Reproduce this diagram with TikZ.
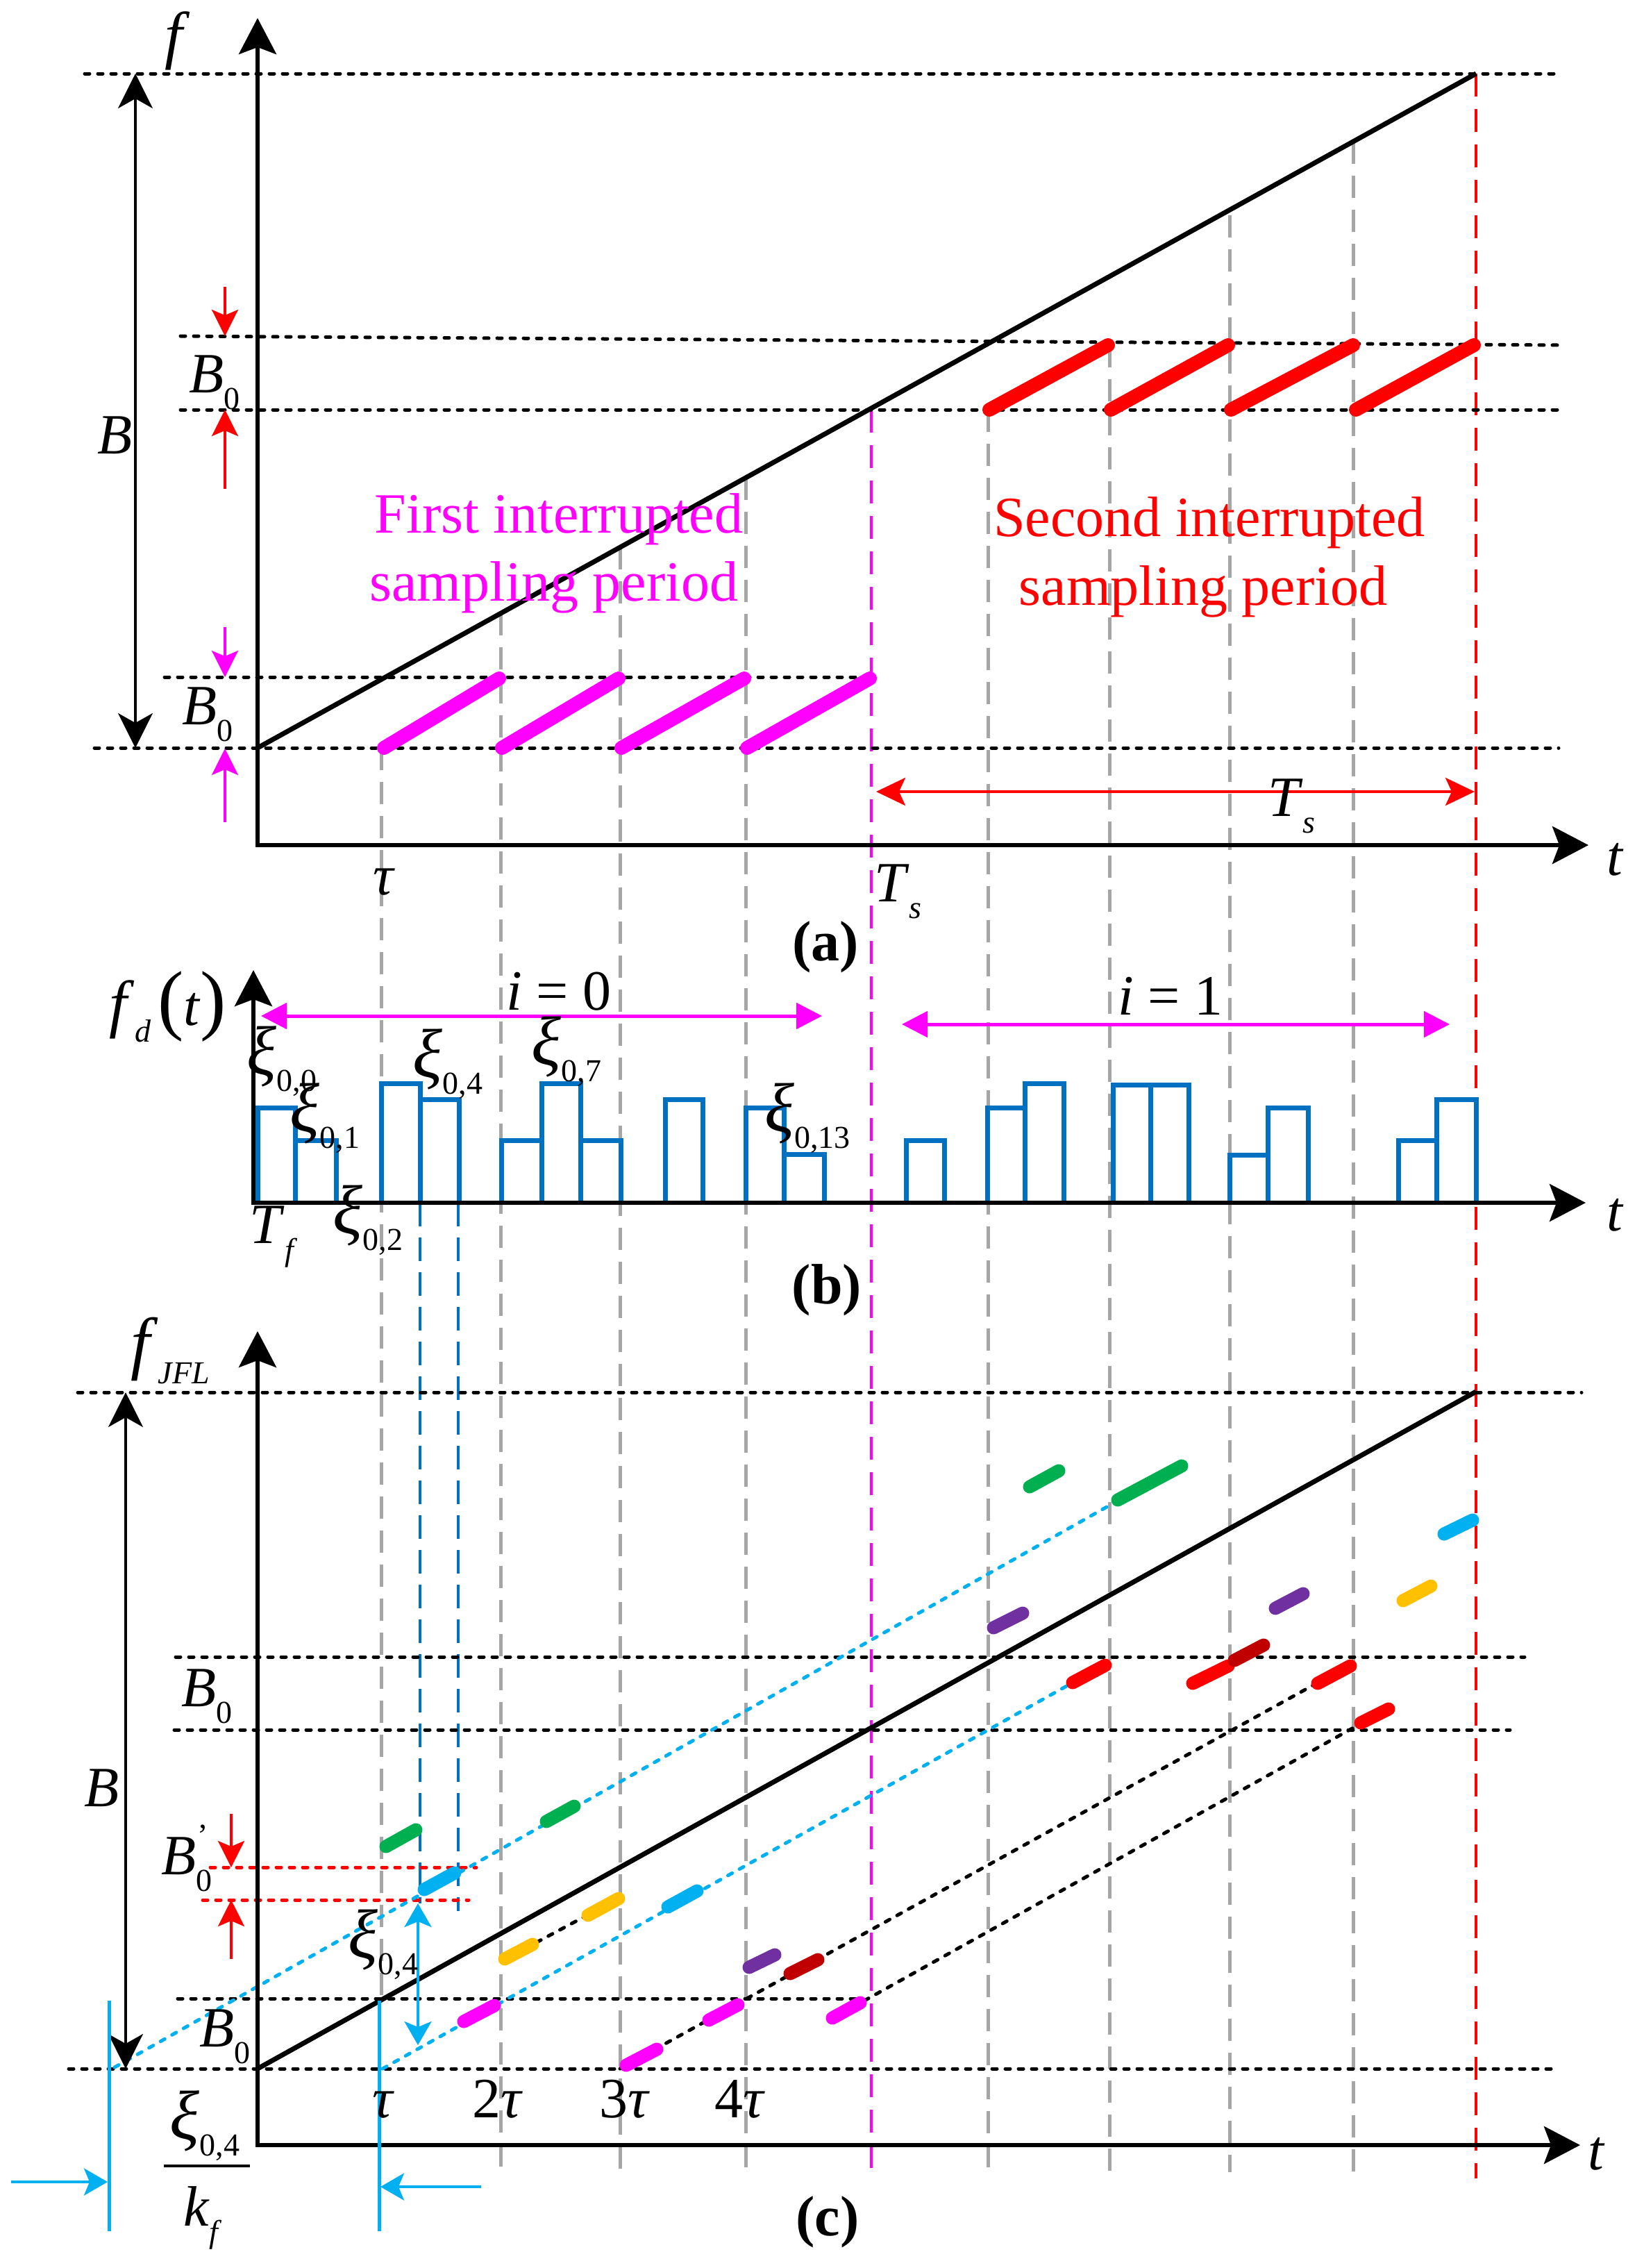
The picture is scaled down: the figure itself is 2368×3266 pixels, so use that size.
\documentclass[tikz,border=0pt]{standalone}
\usepackage{fontspec}
\setmainfont{Liberation Serif}
\usetikzlibrary{arrows.meta}
\definecolor{mag}{RGB}{255,0,255}
\definecolor{rd}{RGB}{255,0,0}
\definecolor{grn}{RGB}{0,176,80}
\definecolor{lb}{RGB}{0,176,240}
\definecolor{yel}{RGB}{255,192,0}
\definecolor{pur}{RGB}{112,48,160}
\definecolor{drd}{RGB}{192,0,0}
\definecolor{barblue}{RGB}{0,112,192}
\definecolor{gry}{RGB}{166,166,166}
\newcommand\mysub[1]{\raisebox{-0.3em}{\fontsize{46}{46}\selectfont #1}}
\newcommand\mysup[1]{\raisebox{0.5em}{\fontsize{46}{46}\selectfont #1}}
\newcommand\myxi{{\fontsize{100}{100}\selectfont\textit{ξ}}}
\tikzset{
  lab/.style={font=\fontsize{82}{98}\selectfont, inner sep=0pt, outer sep=0pt},
  plab/.style={font=\fontsize{82}{98}\selectfont\bfseries, inner sep=0pt},
  axis2/.style={line width=6pt, {Stealth[length=52pt,width=54pt,inset=10pt]}-{Stealth[length=52pt,width=54pt,inset=10pt]}},
  bigarr/.style={line width=4pt, {Stealth[length=50pt,width=50pt,inset=14pt]}-{Stealth[length=50pt,width=50pt,inset=14pt]}},
  smallarr/.style={line width=3.5pt, -{Stealth[length=38pt,width=38pt,inset=8pt]}},
  iarr/.style={draw=mag, line width=5pt, {Triangle[length=37pt,width=37pt]}-{Triangle[length=37pt,width=37pt]}},
  blkdot/.style={line width=5pt, line cap=round, dash pattern=on 7pt off 12pt},
  gdash/.style={draw=gry, line width=5pt, dash pattern=on 32pt off 17pt},
  mdash/.style={draw=mag, line width=4pt, dash pattern=on 33pt off 18pt},
  rdash/.style={draw=rd, line width=4pt, dash pattern=on 33pt off 18pt},
  bdash/.style={draw=barblue, line width=4pt, dash pattern=on 34pt off 16pt},
  seg/.style={line width=20pt, line cap=round},
  segc/.style={line width=19pt, line cap=round},
  ramp/.style={line width=7pt},
  bars/.style={draw=barblue, line width=7pt},
}
\begin{document}
\begin{tikzpicture}[x=1pt,y=-1pt]
\useasboundingbox (0,0) rectangle (2368,3266);

% ---------------- vertical guide lines ----------------
\draw[gdash] (549,1077) -- (549,2878);
\foreach \x/\y in {721/883, 893/788, 1074/688, 1423/590, 1598/497, 1771/310, 1949/204}
  \draw[gdash] (\x,\y) -- (\x,3128);
\draw[mdash] (1255,590) -- (1255,3128);
\draw[rdash] (2126,106) -- (2126,3137);
\draw[bdash] (605,1732) -- (605,2741);
\draw[bdash] (660,1732) -- (660,2752);

% ================= panel (a) =================
\draw[blkdot] (122,106) -- (2245,106);
\draw[blkdot] (260,484) -- (2245,497);
\draw[blkdot] (260,590) -- (2245,590);
\draw[blkdot] (237,975) -- (1255,975);
\draw[blkdot] (136,1077) -- (2245,1077);
\draw[ramp] (371,1077) -- (2126,106);
\foreach \a/\b in {553/719, 723/891, 895/1072, 1076/1253}
  \draw[seg, mag] (\a,1077) -- (\b,977);
\foreach \a/\b in {1425/1596, 1600/1769, 1773/1949, 1953/2123}
  \draw[seg, rd] (\a,590) -- (\b,497);
\draw[axis2] (371,26) -- (371,1217) -- (2288,1217);
\draw[bigarr] (195,106) -- (195,1077);
\draw[smallarr, rd] (324,413) -- (324,484);
\draw[smallarr, rd] (324,704) -- (324,590);
\draw[smallarr, mag] (324,903) -- (324,975);
\draw[smallarr, mag] (324,1184) -- (324,1078);
\draw[rd, line width=4pt, {Stealth[length=42pt,width=40pt,inset=9pt]}-{Stealth[length=42pt,width=40pt,inset=9pt]}] (1262,1140) -- (2124,1140);

\node[lab] (fa) at (256,59) {{\fontsize{92}{92}\selectfont\textit{f}}};
\node[lab, anchor=base] (Ba) at (166,653) {\textit{B}};
\node[lab, anchor=base west] (B0a) at (272,565) {\textit{B}\mysub{0}};
\node[lab, anchor=base west] (B0b) at (262,1043) {\textit{B}\mysub{0}};
\node[lab, anchor=base] (taua) at (553,1288) {\textit{τ}};
\node[lab, anchor=base west] (Tsa) at (1259,1298) {\textit{T}\mysub{\textit{s}}};
\node[lab, anchor=base west] (Tsb) at (1826,1175) {\textit{T}\mysub{\textit{s}}};
\node[lab, anchor=base] (ta) at (2327,1260) {\textit{t}};
\node[plab] (pa) at (1189,1364) {(a)};
\node[lab, text=mag, anchor=base] (fi1) at (805,767) {First interrupted};
\node[lab, text=mag, anchor=base] (fi2) at (798,865) {sampling period};
\node[lab, text=rd, anchor=base] (se1) at (1742,772) {Second interrupted};
\node[lab, text=rd, anchor=base] (se2) at (1733,871) {sampling period};

% ================= panel (b) =================
\foreach \a/\b/\h in {371/425/1595, 425/484/1642, 549/605/1560, 605/661/1583,
   722/780/1642, 780/836/1560, 836/894/1642, 958/1012/1583, 1074/1129/1595, 1129/1187/1662,
   1305/1360/1642, 1422/1476/1595, 1476/1532/1560, 1603/1657/1562, 1657/1712/1562,
   1771/1826/1663, 1826/1884/1595, 2014/2069/1642, 2069/2126/1583}
  \draw[bars] (\a,1732) |- (\b,\h) -- (\b,1732);
\draw[axis2] (365,1397) -- (365,1732) -- (2284,1732);
\draw[iarr] (376,1463) -- (1184,1463);
\draw[iarr] (1299,1475) -- (2088,1475);

\node[lab] (fd) at (242,1450) {{\fontsize{92}{92}\selectfont\textit{f}}\mysub{\textit{d}}\hspace{0.12em}{\fontsize{112}{112}\selectfont(}\textit{t}{\fontsize{112}{112}\selectfont)}};
\node[lab, anchor=base] (i0) at (805,1454) {\textit{i}\hspace{0.25em}=\hspace{0.25em}0};
\node[lab, anchor=base] (i1) at (1686,1461) {\textit{i}\hspace{0.25em}=\hspace{0.25em}1};
\node[lab] (x00) at (406,1528) {\myxi\mysub{0,0}};
\node[lab] (x01) at (468,1610) {\myxi\mysub{0,1}};
\node[lab] (x02) at (530,1757) {\myxi\mysub{0,2}};
\node[lab] (x04) at (645,1532) {\myxi\mysub{0,4}};
\node[lab] (x07) at (816,1514) {\myxi\mysub{0,7}};
\node[lab] (x013) at (1163,1610) {\myxi\mysub{0,13}};
\node[lab] (Tf) at (394,1781) {\textit{T}\mysub{\textit{f}}};
\node[lab, anchor=base] (tb) at (2327,1772) {\textit{t}};
\node[plab] (pb) at (1191,1858) {(b)};

% ================= panel (c) =================
\draw[blkdot] (112,2005) -- (2278,2005);
\draw[blkdot] (253,2386) -- (2196,2386);
\draw[blkdot] (251,2491) -- (2175,2491);
\draw[blkdot] (256,2878) -- (1240,2878);
\draw[blkdot] (99,2979) -- (2245,2979);
\draw[blkdot, rd] (303,2689) -- (686,2689);
\draw[blkdot, rd] (292,2736) -- (675,2736);
\draw[blkdot, lb] (165,2977) -- (1603,2165);
\draw[blkdot, lb] (551,2979) -- (1538,2427);
\draw[blkdot] (893,2979) -- (1891,2427);
\draw[blkdot] (1245,2881) -- (1953,2486);
\draw[blkdot] (773,2797) -- (840,2761);
\draw[ramp] (371,2979) -- (2126,2004);

\foreach \c/\xa/\ya/\xb/\yb in {
  grn/556/2659/599/2635, lb/611/2721/655/2697, grn/787/2623/827/2601,
  yel/727/2821/767/2800, yel/847/2758/891/2734, lb/962/2746/1004/2723,
  mag/668/2911/712/2888, mag/902/2974/946/2951, mag/1021/2909/1063/2887,
  pur/1079/2833/1116/2815, drd/1138/2842/1178/2822, mag/1199/2906/1239/2884,
  grn/1483/2141/1525/2118, grn/1610/2160/1702/2111, pur/1431/2344/1473/2323,
  rd/1545/2423/1592/2398, rd/1718/2424/1769/2399, drd/1778/2391/1820/2369,
  pur/1837/2316/1877/2295, rd/1898/2424/1945/2399, rd/1960/2481/2000/2461,
  yel/2021/2305/2061/2284, lb/2080/2209/2121/2189}
  \draw[segc, \c] (\xa,\ya) -- (\xb,\yb);

\draw[axis2] (371,1917) -- (371,3089) -- (2276,3089);
\draw[bigarr] (181,2005) -- (181,2979);
\draw[smallarr, rd] (333,2612) -- (333,2689);
\draw[smallarr, rd] (333,2821) -- (333,2736);
\draw[lb, line width=4pt, {Stealth[length=34pt,width=39pt,inset=8pt]}-{Stealth[length=34pt,width=39pt,inset=8pt]}] (602,2741) -- (602,2945);
\draw[lb, line width=5pt] (157,2881) -- (157,3213);
\draw[lb, line width=5pt] (546,2881) -- (546,3213);
\draw[lb, line width=4pt, -{Stealth[length=34pt,width=39pt,inset=8pt]}] (16,3142) -- (155,3142);
\draw[lb, line width=4pt, -{Stealth[length=34pt,width=39pt,inset=8pt]}] (693,3149) -- (548,3149);
\draw[line width=4pt] (236,3119) -- (360,3119);

\node[lab] (fjfl) at (245,1945) {{\fontsize{100}{100}\selectfont\textit{f}}\mysub{\textit{JFL}}};
\node[lab, anchor=base] (Bc) at (147,2601) {\textit{B}};
\node[lab, anchor=base west] (B0c) at (261,2457) {\textit{B}\mysub{0}};
\node[lab, anchor=base west] (B0p) at (232,2699) {\textit{B}\rlap{\mysup{\hspace{0.05em}'}}\mysub{0}};
\node[lab, anchor=base west] (B0d) at (287,2947) {\textit{B}\mysub{0}};
\node[lab] (x04c) at (552,2800) {\myxi\mysub{0,4}};
\node[lab, anchor=base] (t1) at (552,3049) {\textit{τ}};
\node[lab, anchor=base] (t2) at (717,3049) {2\textit{τ}};
\node[lab, anchor=base] (t3) at (900,3049) {3\textit{τ}};
\node[lab, anchor=base] (t4) at (1066,3049) {4\textit{τ}};
\node[lab] (num) at (295,3061) {\myxi\mysub{0,4}};
\node[lab] (den) at (292,3194) {\textit{k}\mysub{\textit{f}}};
\node[lab, anchor=base] (tc) at (2300,3124) {\textit{t}};
\node[plab] (pc) at (1192,3200) {(c)};
\end{tikzpicture}
\end{document}
